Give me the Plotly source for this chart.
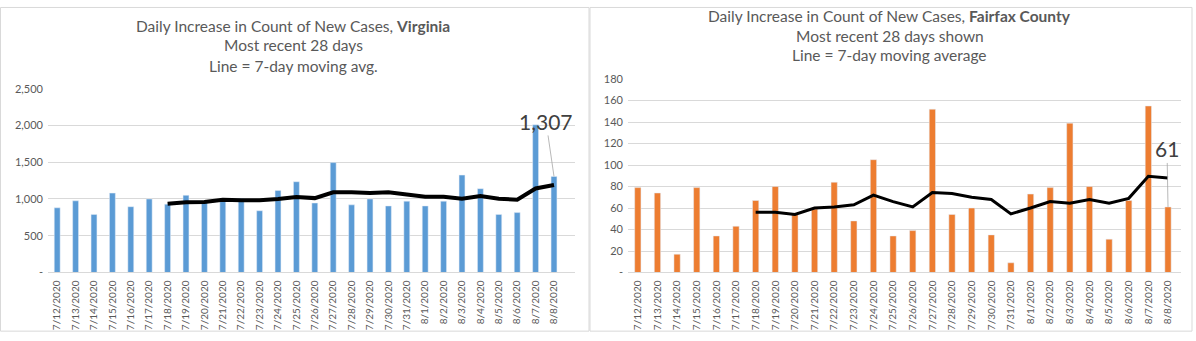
import plotly.graph_objects as go

dates = ["7/12/2020","7/13/2020","7/14/2020","7/15/2020","7/16/2020","7/17/2020","7/18/2020",
         "7/19/2020","7/20/2020","7/21/2020","7/22/2020","7/23/2020","7/24/2020","7/25/2020",
         "7/26/2020","7/27/2020","7/28/2020","7/29/2020","7/30/2020","7/31/2020","8/1/2020",
         "8/2/2020","8/3/2020","8/4/2020","8/5/2020","8/6/2020","8/7/2020","8/8/2020"]

va_cases = [880, 975, 790, 1080, 895, 1000, 930, 1050, 960, 985, 1005, 840, 1115, 1235,
            945, 1495, 920, 1000, 905, 970, 905, 970, 1325, 1140, 790, 815, 2010, 1307]
va_avg = [None]*6 + [936, 957, 960, 990, 983, 983, 1000, 1026, 1012, 1091, 1091, 1080,
                     1091, 1062, 1030, 1030, 1003, 1039, 1003, 990, 1143, 1191]

ff_cases = [79, 74, 17, 79, 34, 43, 67, 80, 54, 59, 84, 48, 105, 34, 39, 152, 54, 60, 35,
            9, 73, 79, 139, 80, 31, 67, 155, 61]
ff_avg = [None]*6 + [56, 56, 54, 60, 61, 63, 72, 66, 61, 74.5, 73.5, 70, 68, 54.5, 60,
                     66, 64.5, 68, 64.5, 69, 89.5, 88]

va_ticks = [0, 500, 1000, 1500, 2000, 2500]
va_ticktext = ["-", "500", "1,000", "1,500", "2,000", "2,500"]
ff_ticks = [0, 20, 40, 60, 80, 100, 120, 140, 160, 180]
ff_ticktext = ["-", "20", "40", "60", "80", "100", "120", "140", "160", "180"]

W, H = 1196, 341
FONT = "Lato"
TXT = "#595959"
GRID = "#d9d9d9"

def px(x):
    return x / W

def py(y):
    return 1 - y / H

fig = go.Figure()
fig.add_trace(go.Bar(x=dates, y=va_cases, marker_color="#5B9BD5", xaxis="x", yaxis="y",
                     width=0.32, showlegend=False))
fig.add_trace(go.Scatter(x=dates, y=va_avg, mode="lines", line=dict(color="black", width=4),
                         xaxis="x", yaxis="y", showlegend=False))
fig.add_trace(go.Bar(x=dates, y=ff_cases, marker_color="#ED7D31", xaxis="x2", yaxis="y2",
                     width=0.32, showlegend=False))
fig.add_trace(go.Scatter(x=dates, y=ff_avg, mode="lines", line=dict(color="black", width=3),
                         xaxis="x2", yaxis="y2", showlegend=False))

xcommon = dict(type="category", tickangle=-90, showgrid=False, showline=True,
               linecolor=GRID, linewidth=1, ticks="", ticklabelstandoff=3,
               tickfont=dict(family=FONT, size=10, color=TXT))
ycommon = dict(showgrid=True, gridcolor=GRID, gridwidth=1, zeroline=False, showline=False,
               ticks="", ticklabelstandoff=4, tickfont=dict(family=FONT, size=11, color=TXT))

fig.update_layout(
    width=W, height=H, margin=dict(l=0, r=0, t=0, b=0),
    paper_bgcolor="white", plot_bgcolor="white", bargap=0.68,
    xaxis=dict(domain=[px(48), px(575)], anchor="y", **xcommon),
    yaxis=dict(domain=[py(276), py(85)], anchor="x", range=[0, 2500],
               tickvals=va_ticks, ticktext=va_ticktext, **ycommon),
    xaxis2=dict(domain=[px(628), px(1181)], anchor="y2", **xcommon),
    yaxis2=dict(domain=[py(276), py(75)], anchor="x2", range=[0, 180],
                tickvals=ff_ticks, ticktext=ff_ticktext, **ycommon),
)

title_font = dict(family=FONT, size=15.5, color=TXT)
anns = [
    dict(text="Daily Increase in Count of New Cases, <b>Virginia</b>", x=px(293), y=py(20)),
    dict(text="Most recent 28 days", x=px(293), y=py(40)),
    dict(text="Line = 7-day moving avg.", x=px(293), y=py(61)),
    dict(text="Daily Increase in Count of New Cases, <b>Fairfax County</b>", x=px(890), y=py(9)),
    dict(text="Most recent 28 days shown", x=px(890), y=py(30)),
    dict(text="Line = 7-day moving average", x=px(890), y=py(50)),
]
for a in anns:
    fig.add_annotation(xref="paper", yref="paper", showarrow=False, font=title_font,
                       xanchor="center", yanchor="middle", **a)

fig.add_annotation(x="8/8/2020", y=1307, xref="x", yref="y", text="1,307",
                   showarrow=True, arrowhead=0, arrowwidth=0.8, arrowcolor="#a6a6a6",
                   ax=-8, ay=-55, font=dict(family=FONT, size=21, color="#404040"))
fig.add_annotation(x="8/8/2020", y=61, xref="x2", yref="y2", text="61",
                   showarrow=True, arrowhead=0, arrowwidth=0.8, arrowcolor="#a6a6a6",
                   ax=-1, ay=-58, font=dict(family=FONT, size=21, color="#404040"))

fig.add_shape(type="rect", xref="paper", yref="paper", x0=px(0.5), x1=px(589), y0=py(337),
              y1=py(0.5), line=dict(color=GRID, width=1), layer="below")
fig.add_shape(type="rect", xref="paper", yref="paper", x0=px(590), x1=px(1192), y0=py(337),
              y1=py(0.5), line=dict(color=GRID, width=1), layer="below")

fig.write_html("out.html")
